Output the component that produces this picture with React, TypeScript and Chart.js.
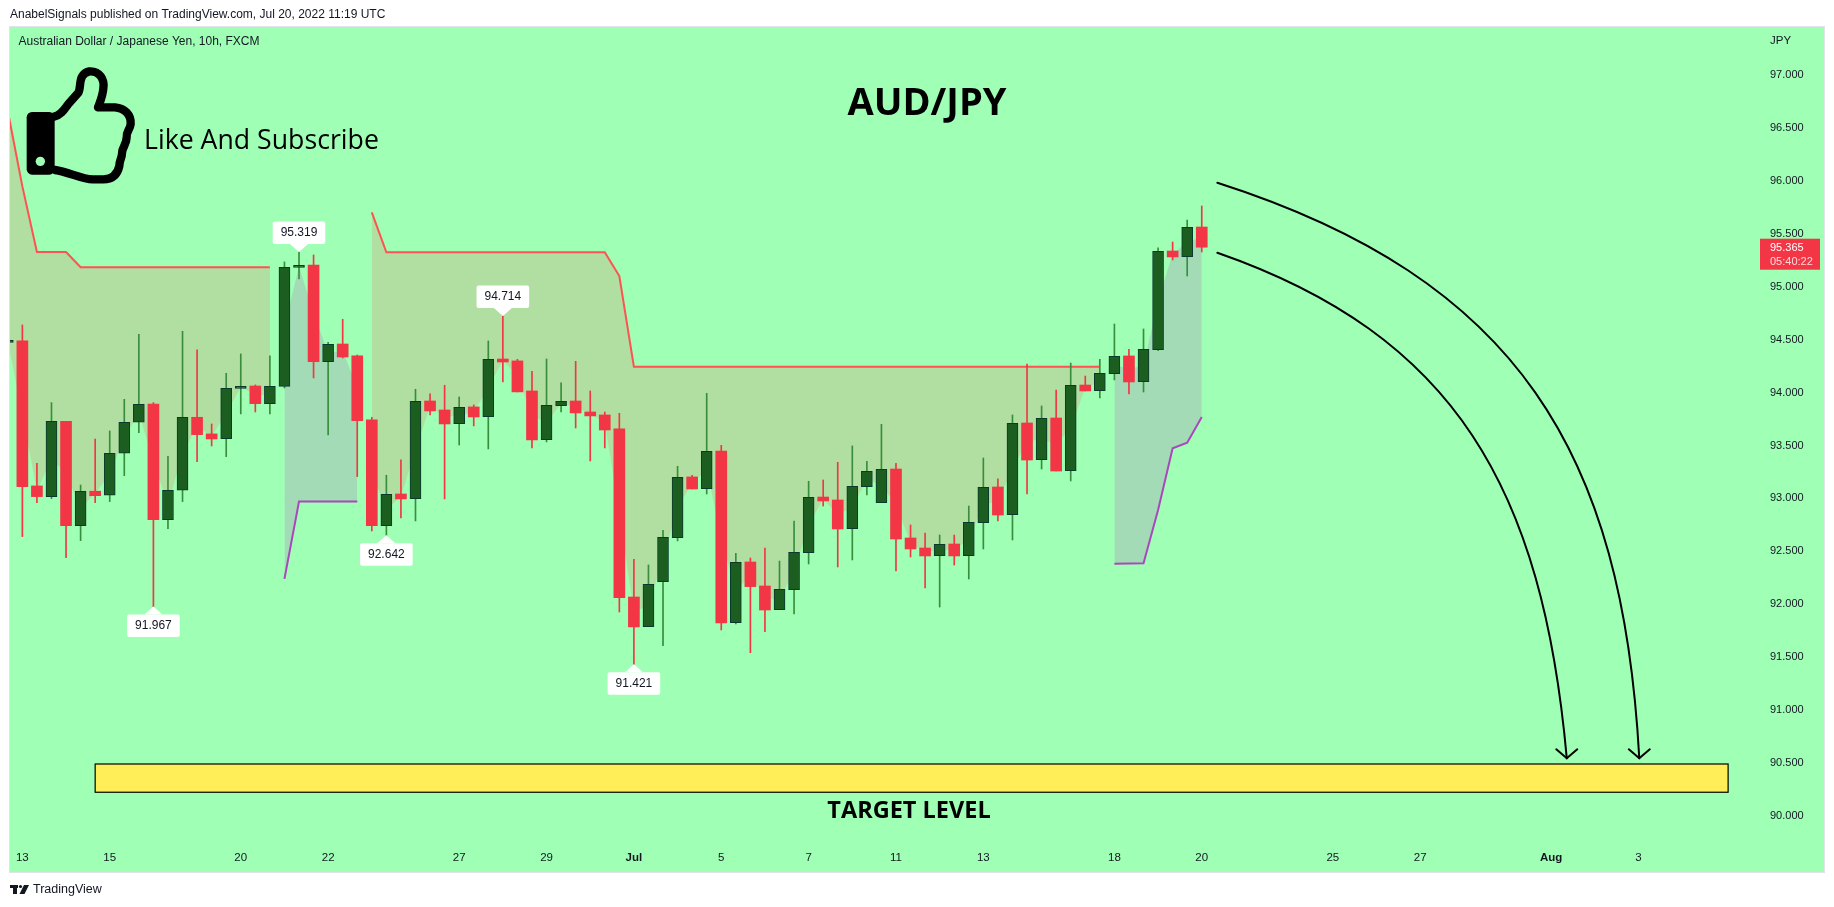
import React, { useEffect, useRef } from "react";
import { Chart, registerables } from "chart.js";

Chart.register(...registerables);

const opens = [94.465,94.479,93.108,93.007,93.719,92.733,93.058,93.02,93.417,93.71,93.883,92.79,93.067,93.757,93.6,93.555,94.031,94.053,93.886,94.05,95.175,95.197,94.283,94.45,94.337,93.732,92.733,93.032,92.988,93.911,93.826,93.697,93.855,93.763,94.308,94.29,94.006,93.546,93.867,93.911,93.807,93.779,93.647,92.058,91.778,92.203,92.619,93.193,93.082,93.438,91.816,92.389,92.162,91.938,92.127,92.477,93.003,92.975,92.704,93.101,92.95,93.268,92.616,92.521,92.449,92.559,92.449,92.761,93.098,92.836,93.703,93.356,93.75,93.252,94.062,94.009,94.169,94.337,94.094,94.396,95.329,95.276,95.556];
const highs = [94.485,94.63,93.322,93.896,93.719,93.117,93.552,93.628,93.927,94.542,93.896,93.388,94.57,94.394,93.694,94.173,94.356,94.063,94.337,95.226,95.319,95.292,94.466,94.683,94.346,93.757,93.209,93.354,94.022,93.978,94.06,93.949,93.874,94.479,94.714,94.305,94.192,94.308,94.082,94.286,94.006,93.807,93.795,92.414,92.361,92.689,93.294,93.209,93.984,93.492,92.471,92.427,92.521,92.398,92.776,93.152,93.164,93.331,93.486,93.341,93.69,93.322,92.739,92.663,92.644,92.644,92.918,93.372,93.174,93.779,94.261,93.864,94.015,94.27,94.147,94.305,94.639,94.4,94.592,95.358,95.414,95.622,95.755];
const lows = [94.465,92.629,92.95,92.988,92.43,92.591,92.95,92.96,93.205,93.612,91.967,92.705,92.96,93.338,93.486,93.385,93.789,93.807,93.789,94.034,95.065,94.129,93.59,94.318,93.196,92.682,92.642,92.805,92.777,93.779,92.985,93.495,93.675,93.458,94.091,93.997,93.467,93.524,93.807,93.656,93.344,93.467,91.916,91.421,91.778,91.598,92.588,93.079,93.032,91.746,91.803,91.531,91.73,91.938,91.897,92.37,92.918,92.342,92.408,93.022,92.95,92.304,92.436,92.143,91.963,92.36,92.228,92.512,92.777,92.597,93.032,93.268,93.249,93.155,94.006,93.939,94.11,93.977,93.996,94.387,95.244,95.093,95.32];
const closes = [94.485,93.102,93.007,93.719,92.733,93.058,93.016,93.417,93.71,93.88,92.79,93.067,93.757,93.593,93.552,94.031,94.05,93.886,94.05,95.175,95.194,94.283,94.447,94.327,93.725,92.733,93.029,92.985,93.908,93.817,93.694,93.852,93.76,94.305,94.28,93.997,93.543,93.87,93.908,93.798,93.77,93.637,92.052,91.775,92.178,92.623,93.19,93.079,93.435,91.812,92.386,92.156,91.935,92.13,92.48,93,92.966,92.701,93.104,93.246,93.265,92.606,92.512,92.446,92.556,92.446,92.764,93.095,92.833,93.7,93.353,93.747,93.249,94.059,94.006,94.173,94.333,94.091,94.4,95.326,95.273,95.553,95.365];

const upperBand = [96.653,95.94,95.32,95.32,95.32,95.175,95.175,95.175,95.175,95.175,95.175,95.175,95.175,95.175,95.175,95.175,95.175,95.175,95.175,null,null,null,null,null,null,95.695,95.317,95.317,95.317,95.317,95.317,95.317,95.317,95.317,95.317,95.317,95.317,95.317,95.317,95.317,95.317,95.317,95.093,94.236,94.236,94.236,94.236,94.236,94.236,94.236,94.236,94.236,94.236,94.236,94.236,94.236,94.236,94.236,94.236,94.236,94.236,94.236,94.236,94.236,94.236,94.236,94.236,94.236,94.236,94.236,94.236,94.236,94.236,94.236,94.236,94.236,null,null,null,null,null,null,null];
const lowerBand = [null,null,null,null,null,null,null,null,null,null,null,null,null,null,null,null,null,null,null,92.229,92.96,92.96,92.96,92.96,92.96,null,null,null,null,null,null,null,null,null,null,null,null,null,null,null,null,null,null,null,null,null,null,null,null,null,null,null,null,null,null,null,null,null,null,null,null,null,null,null,null,null,null,null,null,null,null,null,null,null,null,null,92.373,92.375,92.376,92.881,93.464,93.517,93.76];
const bandEdge = [94.47,93.79,93.058,93.363,93.226,92.896,93.037,93.219,93.564,93.795,93.337,92.929,93.412,93.675,93.576,93.793,94.04,93.97,93.968,94.613,95.185,94.74,94.365,94.389,94.031,93.233,92.881,93.009,93.448,93.864,93.76,93.775,93.808,94.034,94.294,94.144,93.775,93.708,93.888,93.855,93.789,93.708,92.85,91.917,91.978,92.413,92.905,93.136,93.259,92.625,92.101,92.273,92.049,92.034,92.304,92.739,92.985,92.838,92.904,93.174,93.108,92.937,92.564,92.484,92.503,92.503,92.607,92.928,92.966,93.268,93.528,93.552,93.5,93.656,94.034,94.091,94.251,94.214,94.247,94.861,95.301,95.415,95.459];

const priceTicks = [97,96.5,96,95.5,95,94.5,94,93.5,93,92.5,92,91.5,91,90.5,90];
const xTickIndexes = [1,7,16,22,31,37,43,49,55,61,67,76,82,91,97,106,112];
const xTickLabels = ["13","15","20","22","27","29","Jul","5","7","11","13","18","20","25","27","Aug","3"];
const monthLabels = ["Jul","Aug"];

const highCallouts = [20,34];
const lowCallouts = [10,26,43];
const targetZone = { fromIndex: 6, toIndex: 118.15, top: 90.479, bottom: 90.212 };

const outerCurve = [[83.07,95.975],[103.79,95.062],[110.9,93.417],[112.05,90.533]];
const innerCurve = [[83.07,95.313],[99.44,94.529],[105.4,93.082],[107.07,90.533]];

const LABEL_FONT = '"Liberation Sans"';
const BG = "#9fffb5";
const RED = "#f23645";
const GREEN_BODY = "#1b5e20";
const GREEN_BORDER = "#0a3a2e";
const GREEN_WICK = "#388e3c";

function isUp(i: number) { return closes[i] >= opens[i]; }

function wicks(up: boolean) {
  return closes.map((_, i) => ({ x: i, y: [lows[i], highs[i]] })).filter(p => isUp(p.x) === up);
}
function bodies(up: boolean) {
  return closes.map((_, i) => ({ x: i, y: [opens[i], closes[i]] })).filter(p => isUp(p.x) === up);
}
function line(values: (number | null)[]) {
  return values.map((y, x) => ({ x, y }));
}

function drawThumb(ctx: CanvasRenderingContext2D) {
  ctx.save();
  ctx.scale(1 / 3, 1 / 3);
  ctx.fillStyle = "#000";
  ctx.beginPath();
  ctx.roundRect(80, 336, 84, 188, 16);
  ctx.fill();
  ctx.fillStyle = BG;
  ctx.beginPath();
  ctx.arc(121, 484, 14, 0, Math.PI * 2);
  ctx.fill();
  ctx.strokeStyle = "#000";
  ctx.lineWidth = 25;
  ctx.lineJoin = "round";
  ctx.lineCap = "round";
  ctx.beginPath();
  ctx.moveTo(162, 350);
  ctx.bezierCurveTo(185, 345, 195, 325, 205, 312);
  ctx.lineTo(235, 278);
  ctx.bezierCurveTo(245, 262, 232, 222, 268, 214);
  ctx.bezierCurveTo(300, 212, 314, 240, 310, 265);
  ctx.bezierCurveTo(308, 290, 300, 305, 294, 322);
  ctx.lineTo(345, 322);
  ctx.bezierCurveTo(375, 325, 394, 345, 392, 372);
  ctx.bezierCurveTo(390, 390, 378, 395, 380, 412);
  ctx.bezierCurveTo(380, 435, 366, 440, 366, 460);
  ctx.bezierCurveTo(366, 475, 358, 480, 358, 498);
  ctx.bezierCurveTo(352, 525, 335, 538, 310, 538);
  ctx.lineTo(278, 538);
  ctx.bezierCurveTo(245, 538, 205, 515, 165, 510);
  ctx.stroke();
  ctx.restore();
}

function drawLogo(ctx: CanvasRenderingContext2D) {
  ctx.fillStyle = "#131722";
  ctx.fillRect(10, 885, 8, 3);
  ctx.fillRect(13, 885, 4, 9);
  ctx.beginPath();
  ctx.arc(20.5, 886.5, 1.6, 0, Math.PI * 2);
  ctx.fill();
  ctx.beginPath();
  ctx.moveTo(24, 885);
  ctx.lineTo(29, 885);
  ctx.lineTo(24.5, 894);
  ctx.lineTo(19.5, 894);
  ctx.closePath();
  ctx.fill();
}

const decorPlugin = {
  id: "decor",
  beforeDraw(chart: any) {
    const ctx = chart.ctx as CanvasRenderingContext2D;
    ctx.save();
    ctx.fillStyle = "#ffffff";
    ctx.fillRect(0, 0, 1834, 907);
    ctx.fillStyle = BG;
    ctx.fillRect(10, 27, 1814, 845);
    ctx.strokeStyle = "#e0e3eb";
    ctx.lineWidth = 1;
    ctx.strokeRect(9.5, 26.5, 1815, 846);
    ctx.fillStyle = "#131722";
    ctx.textBaseline = "middle";
    ctx.textAlign = "left";
    ctx.font = `12px ${LABEL_FONT}`;
    ctx.fillText("AnabelSignals published on TradingView.com, Jul 20, 2022 11:19 UTC", 10, 15);
    ctx.fillText("Australian Dollar / Japanese Yen, 10h, FXCM", 18.5, 42);
    ctx.font = `12.5px ${LABEL_FONT}`;
    ctx.fillText("TradingView", 33, 890);
    drawLogo(ctx);
    ctx.restore();
  },
  afterDatasetsDraw(chart: any) {
    const ctx = chart.ctx as CanvasRenderingContext2D;
    const xs = chart.scales.x;
    const ys = chart.scales.y;
    const px = (i: number) => xs.getPixelForValue(i);
    const py = (v: number) => ys.getPixelForValue(v);
    ctx.save();

    // target zone
    const zx = px(targetZone.fromIndex);
    const zy = py(targetZone.top);
    const zw = px(targetZone.toIndex) - zx;
    const zh = py(targetZone.bottom) - zy;
    ctx.fillStyle = "#ffee58";
    ctx.fillRect(zx, zy, zw, zh);
    ctx.strokeStyle = "#000";
    ctx.lineWidth = 1.2;
    ctx.strokeRect(zx, zy, zw, zh);

    // curved arrows
    ctx.strokeStyle = "#000";
    ctx.lineWidth = 2;
    ctx.lineCap = "round";
    for (const c of [outerCurve, innerCurve]) {
      const p = c.map(([i, v]) => [px(i), py(v)]);
      ctx.beginPath();
      ctx.moveTo(p[0][0], p[0][1]);
      ctx.bezierCurveTo(p[1][0], p[1][1], p[2][0], p[2][1], p[3][0], p[3][1]);
      ctx.stroke();
      ctx.beginPath();
      ctx.moveTo(p[3][0] - 10.5, p[3][1] - 9);
      ctx.lineTo(p[3][0], p[3][1]);
      ctx.lineTo(p[3][0] + 10.5, p[3][1] - 9);
      ctx.stroke();
    }

    // callouts
    const callout = (i: number, value: number, above: boolean) => {
      const cx = px(i);
      const tip = py(value);
      const dir = above ? -1 : 1;
      const near = tip + dir * 8;
      const top = above ? near - 22.5 : near;
      ctx.fillStyle = "#ffffff";
      ctx.beginPath();
      ctx.roundRect(cx - 26.3, top, 52.6, 22.5, 2);
      ctx.fill();
      ctx.beginPath();
      ctx.moveTo(cx - 9, near);
      ctx.lineTo(cx, tip);
      ctx.lineTo(cx + 9, near);
      ctx.closePath();
      ctx.fill();
      ctx.fillStyle = "#131722";
      ctx.font = `12px ${LABEL_FONT}`;
      ctx.textAlign = "center";
      ctx.textBaseline = "middle";
      ctx.fillText(value.toFixed(3), cx, top + 11.5);
    };
    highCallouts.forEach(i => callout(i, highs[i], true));
    lowCallouts.forEach(i => callout(i, lows[i], false));

    // headline texts
    ctx.fillStyle = "#000";
    ctx.textBaseline = "middle";
    ctx.textAlign = "center";
    ctx.font = 'bold 38px "Open Sans"';
    ctx.fillText("AUD/JPY", 927, 104);
    ctx.font = 'bold 23.5px "Open Sans"';
    ctx.fillText("TARGET LEVEL", 909, 811);
    ctx.textAlign = "left";
    ctx.font = '26.7px "Open Sans"';
    ctx.fillText("Like And Subscribe", 144, 141);
    ctx.save();
    drawThumb(ctx);
    ctx.restore();

    // axis header and last price tag
    ctx.fillStyle = "#131722";
    ctx.font = `11.5px ${LABEL_FONT}`;
    ctx.fillText("JPY", 1770, 41);
    const last = closes[closes.length - 1];
    const tagY = py(last);
    ctx.fillStyle = RED;
    ctx.fillRect(1760, tagY - 8.5, 60, 31);
    ctx.font = `11px ${LABEL_FONT}`;
    ctx.fillStyle = "#ffffff";
    ctx.fillText(last.toFixed(3), 1770, tagY + 1);
    ctx.fillStyle = "#ffd9dc";
    ctx.fillText("05:40:22", 1770, tagY + 15);
    ctx.restore();
  },
};

export default function App() {
  const ref = useRef<HTMLCanvasElement>(null);
  useEffect(() => {
    document.body.style.margin = "0";
    document.body.style.background = "#fff";
    const common = { pointRadius: 0, pointHoverRadius: 0, spanGaps: false, tension: 0 };
    const chart = new Chart(ref.current as HTMLCanvasElement, {
      type: "bar",
      data: {
        datasets: [
          { label: "Band edge", type: "line", data: line(bandEdge), borderWidth: 0, borderColor: "transparent", fill: false, order: 9, ...common },
          { label: "Upper band", type: "line", data: line(upperBand), borderColor: "#ff5252", borderWidth: 2, fill: { target: 0, above: "#b0dfa1", below: "#b0dfa1" }, order: 8, ...common },
          { label: "Lower band", type: "line", data: line(lowerBand), borderColor: "#ab47bc", borderWidth: 2, fill: { target: 0, above: "#a3dbb6", below: "#a3dbb6" }, order: 7, ...common },
          { label: "Green wicks", data: wicks(true), backgroundColor: GREEN_WICK, barThickness: 1, grouped: false, order: 4 },
          { label: "Red wicks", data: wicks(false), backgroundColor: RED, barThickness: 1, grouped: false, order: 4 },
          { label: "Green bodies", data: bodies(true), backgroundColor: GREEN_BODY, borderColor: GREEN_BORDER, borderWidth: 1, borderSkipped: false, barThickness: 11, grouped: false, order: 2 },
          { label: "Red bodies", data: bodies(false), backgroundColor: RED, barThickness: 11, grouped: false, order: 2 },
        ] as any,
      },
      options: {
        responsive: false,
        animation: false,
        devicePixelRatio: 1,
        layout: { padding: { left: 10, top: 27, right: 10, bottom: 35 } },
        font: { family: LABEL_FONT, size: 11.5 },
        plugins: { legend: { display: false }, tooltip: { enabled: false } },
        events: [],
        scales: {
          x: {
            type: "linear",
            offset: false,
            min: 0.151,
            max: 120.34,
            grid: { display: false, drawTicks: false },
            border: { display: false },
            afterBuildTicks(scale: any) { scale.ticks = xTickIndexes.map(value => ({ value })); },
            afterFit(scale: any) { scale.height = 31; },
            ticks: {
              autoSkip: false,
              maxRotation: 0,
              minRotation: 0,
              padding: 10,
              color: "#131722",
              font: (c: any) => ({ family: LABEL_FONT, size: 11.5, weight: monthLabels.includes(xTickLabels[c.index]) ? "bold" : "normal" }),
              callback: (_: any, index: number) => xTickLabels[index],
            },
          },
          y: {
            type: "linear",
            position: "right",
            min: 89.751,
            max: 97.447,
            grid: { display: false, drawTicks: false },
            border: { display: false },
            afterBuildTicks(scale: any) { scale.ticks = priceTicks.map(value => ({ value })); },
            afterFit(scale: any) { scale.width = 64; },
            ticks: {
              autoSkip: false,
              padding: 10,
              labelOffset: 1,
              color: "#131722",
              crossAlign: "near",
              font: { family: LABEL_FONT, size: 11 },
              callback: (v: any) => Number(v).toFixed(3),
            },
          },
        },
      } as any,
      plugins: [decorPlugin as any],
    });
    return () => chart.destroy();
  }, []);
  return <canvas ref={ref} width={1834} height={907} style={{ display: "block" }} />;
}
